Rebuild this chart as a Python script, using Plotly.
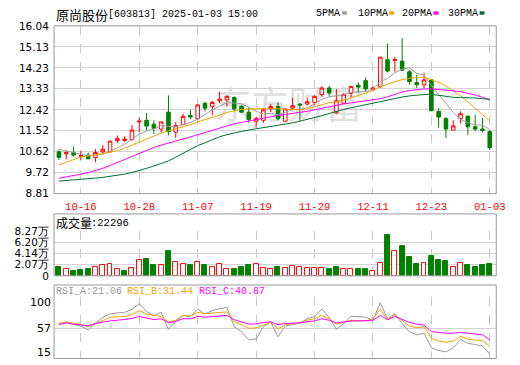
import pandas as pd
import plotly.graph_objects as go

# ---------------- data ----------------
dates = [d for d in pd.bdate_range("2024-10-11", "2025-01-03") if d.strftime("%m-%d") != "01-01"]

opens = [10.61, 10.52, 10.58, 10.42, 10.47, 10.37, 10.61, 10.61, 11.09, 11.10,
         11.14, 11.90, 11.97, 11.80, 11.59, 12.32, 11.46, 11.79, 12.18, 12.04,
         12.70, 12.56, 12.81, 12.85, 12.95, 12.57, 12.32, 11.93, 11.97, 12.46,
         12.57, 11.93, 12.50, 12.67, 12.67, 12.74, 13.08, 13.36, 12.29, 12.70,
         13.13, 13.48, 13.68, 13.29, 13.43, 14.58, 14.55, 14.52, 14.06, 13.60,
         13.50, 13.71, 12.35, 12.04, 11.55, 12.04, 12.15, 11.69, 11.59, 11.48]
highs = [10.70, 10.66, 10.84, 10.66, 10.58, 10.73, 10.89, 11.10, 11.31, 11.28,
         11.76, 12.07, 12.29, 11.97, 11.90, 13.04, 11.90, 12.25, 12.42, 12.67,
         12.77, 12.81, 13.20, 13.04, 13.00, 12.63, 12.53, 12.11, 12.46, 12.67,
         12.74, 12.49, 12.95, 12.70, 12.95, 13.04, 13.43, 13.46, 13.32, 13.13,
         13.43, 13.60, 13.82, 13.43, 14.69, 15.28, 14.69, 15.52, 14.13, 13.92,
         14.02, 13.74, 12.49, 12.11, 11.97, 12.35, 12.15, 12.21, 12.07, 11.55]
lows = [10.26, 10.28, 10.40, 10.26, 10.30, 10.16, 10.51, 10.58, 10.99, 11.04,
        11.09, 11.45, 11.55, 11.37, 11.44, 11.32, 11.21, 11.76, 12.01, 12.01,
        12.35, 12.18, 12.70, 12.56, 12.39, 12.29, 11.86, 11.65, 11.86, 12.32,
        11.97, 11.90, 12.43, 11.93, 12.60, 12.63, 12.99, 13.04, 12.25, 12.67,
        12.95, 13.15, 13.22, 13.22, 13.36, 14.03, 14.06, 14.09, 13.50, 13.36,
        13.36, 12.35, 11.65, 11.21, 11.55, 11.83, 11.34, 11.51, 11.45, 10.69]
closes = [10.37, 10.58, 10.47, 10.45, 10.31, 10.58, 10.72, 11.07, 11.18, 11.16,
          11.55, 11.93, 11.72, 11.62, 11.90, 11.48, 11.74, 12.14, 12.11, 12.63,
          12.49, 12.74, 12.88, 13.00, 12.46, 12.32, 12.00, 12.04, 12.42, 12.56,
          12.04, 12.46, 12.60, 12.63, 12.77, 13.00, 13.36, 13.15, 12.81, 13.09,
          13.43, 13.40, 13.32, 13.36, 14.69, 14.09, 14.59, 14.13, 13.64, 13.50,
          13.71, 12.39, 12.11, 11.59, 11.73, 12.25, 11.69, 11.59, 11.53, 10.79]
volumes = [16000, 12500, 9000, 11500, 13000, 16500, 19000, 21300, 13000, 9500,
           14200, 28400, 30700, 19000, 19000, 44900, 24800, 21300, 19000, 24800,
           19000, 16500, 21300, 13000, 13000, 15400, 20000, 21300, 14200, 13000,
           16500, 14200, 17700, 16500, 14200, 14200, 14200, 13000, 16500, 13000,
           13000, 11800, 11800, 9500, 23600, 75180, 44900, 55500, 34300, 21300,
           23600, 36600, 29500, 27200, 16500, 23600, 20000, 15400, 19000, 22296]
ma5 = [10.72, 10.66, 10.58, 10.50, 10.44, 10.48, 10.51, 10.63, 10.77, 10.94,
       11.14, 11.38, 11.51, 11.60, 11.74, 11.73, 11.69, 11.78, 11.87, 12.02,
       12.22, 12.42, 12.57, 12.75, 12.71, 12.68, 12.53, 12.36, 12.25, 12.27,
       12.21, 12.30, 12.42, 12.46, 12.50, 12.69, 12.87, 12.98, 13.02, 13.08,
       13.17, 13.18, 13.21, 13.32, 13.64, 13.77, 14.01, 14.17, 14.23, 13.99,
       13.91, 13.47, 13.07, 12.66, 12.31, 12.01, 11.87, 11.77, 11.76, 11.57]
ma10 = [10.05, 10.18, 10.28, 10.38, 10.45, 10.49, 10.53, 10.58, 10.66, 10.77,
        10.90, 11.03, 11.17, 11.30, 11.42, 11.52, 11.60, 11.68, 11.78, 11.90,
        11.99, 12.08, 12.19, 12.31, 12.37, 12.44, 12.46, 12.47, 12.49, 12.48,
        12.46, 12.44, 12.42, 12.42, 12.47, 12.54, 12.64, 12.73, 12.77, 12.82,
        12.94, 13.03, 13.14, 13.26, 13.42, 13.53, 13.63, 13.72, 13.78, 13.82,
        13.82, 13.73, 13.61, 13.44, 13.22, 13.03, 12.76, 12.49, 12.23, 11.94]
ma20 = [9.47, 9.52, 9.58, 9.65, 9.72, 9.80, 9.90, 10.02, 10.15, 10.28,
        10.42, 10.54, 10.68, 10.80, 10.90, 10.98, 11.06, 11.15, 11.25, 11.35,
        11.43, 11.53, 11.63, 11.73, 11.82, 11.88, 11.94, 12.00, 12.07, 12.15,
        12.18, 12.22, 12.26, 12.30, 12.36, 12.42, 12.49, 12.56, 12.63, 12.68,
        12.72, 12.76, 12.80, 12.84, 12.90, 12.98, 13.09, 13.19, 13.25, 13.30,
        13.32, 13.32, 13.30, 13.27, 13.24, 13.20, 13.14, 13.06, 12.96, 12.86]
ma30 = [9.35, 9.37, 9.39, 9.42, 9.45, 9.48, 9.51, 9.55, 9.60, 9.65,
        9.72, 9.80, 9.90, 10.00, 10.10, 10.22, 10.38, 10.55, 10.72, 10.88,
        11.00, 11.14, 11.26, 11.35, 11.43, 11.49, 11.55, 11.60, 11.65, 11.70,
        11.74, 11.80, 11.86, 11.93, 12.00, 12.08, 12.17, 12.26, 12.36, 12.44,
        12.51, 12.58, 12.64, 12.71, 12.78, 12.85, 12.91, 12.97, 13.02, 13.06,
        13.08, 13.09, 13.04, 12.98, 12.96, 12.95, 12.95, 12.93, 12.90, 12.87]
rsi_a = [62.5, 65.6, 62.0, 60.0, 54.5, 64.0, 72.0, 76.8, 78.0, 79.0,
         83.0, 91.0, 80.0, 74.6, 79.0, 55.4, 66.0, 74.6, 73.0, 83.5,
         76.8, 81.3, 84.0, 85.7, 59.0, 52.0, 41.1, 42.0, 59.0, 65.6,
         45.0, 60.0, 62.0, 64.0, 70.0, 73.2, 83.5, 72.0, 55.4, 63.4,
         73.2, 72.8, 72.3, 67.9, 92.4, 70.1, 76.8, 63.4, 52.0, 47.8,
         50.0, 29.9, 26.0, 24.2, 29.9, 41.1, 36.0, 34.4, 32.2, 21.06]
rsi_b = [63.4, 65.6, 63.8, 62.0, 59.0, 63.5, 68.0, 72.0, 72.8, 73.2,
         76.0, 81.3, 76.5, 74.6, 73.2, 65.6, 68.0, 74.6, 73.5, 79.1,
         76.8, 78.0, 79.0, 79.5, 65.6, 62.0, 56.7, 57.5, 61.2, 65.6,
         56.0, 62.0, 63.0, 64.3, 68.0, 70.1, 74.6, 70.0, 62.5, 65.6,
         67.9, 67.5, 67.0, 70.1, 83.5, 68.8, 75.5, 67.9, 60.0, 57.6,
         59.0, 43.3, 39.0, 37.5, 39.0, 45.6, 42.0, 40.2, 40.2, 31.44]
rsi_c = [62.1, 64.3, 62.5, 61.5, 60.3, 63.5, 65.5, 67.0, 68.0, 68.8,
         70.5, 73.2, 70.5, 68.8, 70.1, 64.3, 66.5, 70.1, 70.0, 73.2,
         72.3, 72.8, 73.5, 74.6, 68.8, 66.0, 62.5, 63.0, 65.0, 65.6,
         62.0, 63.5, 64.0, 64.3, 66.0, 67.0, 70.1, 68.0, 64.3, 65.6,
         67.0, 67.0, 67.0, 67.9, 74.6, 68.8, 73.2, 68.8, 65.0, 62.5,
         61.2, 52.3, 51.0, 50.0, 50.2, 50.9, 50.0, 49.1, 47.8, 40.87]

price_ticks = [8.81, 9.72, 10.62, 11.52, 12.42, 13.33, 14.23, 15.13, 16.04]
vol_ticks = [0, 20675, 41350, 62025, 82700]
vol_tick_text = ["0", "2.07万", "4.14万", "6.20万", "8.27万"]
date_labels = ["10-16", "10-28", "11-07", "11-19", "11-29", "12-11", "12-23", "01-03"]
rsi_labels = ["100", "57", "15"]

# ---------------- styling / layout helpers ----------------
W, H = 520, 365
RED, GREEN = "#ff0000", "#008000"
C_MA5, C_MA10, C_MA20, C_MA30 = "#a0a0a0", "#f5a300", "#ff00ff", "#007030"
GRID, BORDER = "#d2d2d2", "#9a9a9a"
MONO = "Liberation Mono"
SANS = "DejaVu Sans"
CJK = "Noto Sans CJK SC"


def px(v):
    return v / W


def py(v):
    return 1 - v / H


X0, X1 = 55, 505
MAIN = (20.5, 194)
VOLBOX, VOLPLOT = (215, 279), (232.7, 279)
RSIBOX, RSIPLOT = (288.5, 364.5), (301, 364.5)

n = len(closes)
x = list(range(n))
xr = [-0.67, n - 1 + 0.89]
mmdd = [d.strftime("%m-%d") for d in dates]
tick_idx = [mmdd.index(s) for s in date_labels]

vol_up = [(closes[i] >= (closes[i - 1] if i > 0 else opens[i])) for i in range(n)]
vol_fill = ["#ffffff" if u else GREEN for u in vol_up]
vol_edge = [RED if u else GREEN for u in vol_up]

fig = go.Figure()

# watermark (bottom-most subplot)
fig.add_trace(go.Scatter(x=[0.53], y=[0.50], mode="text", text=["东方财富"],
                         textfont=dict(family=CJK, size=37, color="#e0e0e0"),
                         xaxis="x", yaxis="y", hoverinfo="skip", showlegend=False))

# candles
fig.add_trace(go.Candlestick(
    x=x, open=opens, high=highs, low=lows, close=closes,
    increasing=dict(line=dict(color=RED, width=1), fillcolor="#ffffff"),
    decreasing=dict(line=dict(color=GREEN, width=1), fillcolor=GREEN),
    whiskerwidth=0, xaxis="x2", yaxis="y2", showlegend=False, hoverinfo="skip"))

for ys, col in [(ma5, C_MA5), (ma10, C_MA10), (ma20, C_MA20), (ma30, C_MA30)]:
    fig.add_trace(go.Scatter(x=x, y=ys, mode="lines", line=dict(color=col, width=1),
                             xaxis="x2", yaxis="y2", showlegend=False, hoverinfo="skip"))

# volume
fig.add_trace(go.Bar(x=x, y=volumes, width=0.68,
                     marker=dict(color=vol_fill, line=dict(color=vol_edge, width=1)),
                     xaxis="x3", yaxis="y3", showlegend=False, hoverinfo="skip"))

# RSI
for ys, col in [(rsi_a, "#999999"), (rsi_b, C_MA10), (rsi_c, C_MA20)]:
    fig.add_trace(go.Scatter(x=x, y=ys, mode="lines", line=dict(color=col, width=1),
                             xaxis="x4", yaxis="y4", showlegend=False, hoverinfo="skip"))

xdom = [px(X0), px(X1)]
xcommon = dict(domain=xdom, range=xr, tickmode="array", tickvals=tick_idx,
               showgrid=True, gridcolor="#c8c8c8", griddash="dash", gridwidth=1,
               zeroline=False, showline=False, fixedrange=True)

fig.update_layout(
    width=W, height=H, autosize=False,
    margin=dict(l=0, r=0, t=0, b=0, pad=0),
    paper_bgcolor="#ffffff", plot_bgcolor="rgba(0,0,0,0)",
    showlegend=False, bargap=0,
    xaxis=dict(domain=xdom, range=[0, 1], visible=False, anchor="y"),
    yaxis=dict(domain=[py(MAIN[1]), py(MAIN[0])], range=[0, 1], visible=False, anchor="x"),
    xaxis2=dict(**xcommon, anchor="y2", ticktext=date_labels, showticklabels=True,
                ticks="outside", ticklen=3, tickcolor="rgba(0,0,0,0)",
                tickfont=dict(family=MONO, size=10.5, color=RED),
                rangeslider=dict(visible=False)),
    yaxis2=dict(domain=[py(MAIN[1]), py(MAIN[0])], range=[price_ticks[0], price_ticks[-1]],
                anchor="x2", tickmode="array", tickvals=price_ticks,
                ticktext=[f"{v:.2f}" for v in price_ticks],
                showgrid=True, gridcolor=GRID, gridwidth=1, zeroline=False, showline=False,
                ticks="outside", ticklen=2, tickcolor="rgba(0,0,0,0)",
                tickfont=dict(family=SANS, size=10.5, color="#000000")),
    xaxis3=dict(**xcommon, anchor="y3", showticklabels=False),
    yaxis3=dict(domain=[py(VOLPLOT[1]), py(VOLPLOT[0])], range=[vol_ticks[0], vol_ticks[-1]],
                anchor="x3", tickmode="array", tickvals=vol_ticks, ticktext=vol_tick_text,
                showgrid=True, gridcolor=GRID, gridwidth=1, zeroline=False, showline=False,
                ticks="outside", ticklen=2, tickcolor="rgba(0,0,0,0)",
                tickfont=dict(family=SANS, size=10.5, color="#000000")),
    xaxis4=dict(**xcommon, anchor="y4", showticklabels=False),
    yaxis4=dict(domain=[py(RSIPLOT[1]), py(RSIPLOT[0])], range=[15, 100],
                anchor="x4", tickmode="array", tickvals=[57, 100], showticklabels=False,
                showgrid=True, gridcolor=GRID, gridwidth=1, zeroline=False, showline=False),
)

# panel borders
shapes = []
for top, bot in [MAIN, VOLBOX, RSIBOX]:
    shapes.append(dict(type="rect", xref="paper", yref="paper",
                       x0=px(X0), x1=px(X1), y0=py(bot), y1=py(top),
                       line=dict(color=BORDER, width=1), fillcolor="rgba(0,0,0,0)", layer="above"))

annotations = []


def text(s, xp, yp, family, size, color, anchor="left"):
    annotations.append(dict(text=s, x=px(xp), y=py(yp), xref="paper", yref="paper",
                            xanchor=anchor, yanchor="middle", showarrow=False,
                            font=dict(family=family, size=size, color=color), borderpad=0))


# title
text("原尚股份", 56, 9, CJK, 13, "#000000")
text("[603813] " + dates[-1].strftime("%Y-%m-%d") + " 15:00", 109, 9, MONO, 10, "#000000")

# MA legend
legend_items = [("5PMA", C_MA5, 321), ("10PMA", C_MA10, 363), ("20PMA", C_MA20, 408), ("30PMA", C_MA30, 455)]
for lbl, col, lx in legend_items:
    text(lbl, lx, 8, MONO, 10, "#000000")
    wtxt = 6.0 * len(lbl)
    shapes.append(dict(type="rect", xref="paper", yref="paper",
                       x0=px(lx + wtxt + 3), x1=px(lx + wtxt + 8), y0=py(9), y1=py(5.5),
                       line=dict(width=0), fillcolor=col))

# volume header
text("成交量", 56, 224, CJK, 12, "#000000")
text(":" + str(volumes[-1]), 92, 224, MONO, 10.5, "#000000")

# RSI header
text(f"RSI_A:{rsi_a[-1]:.2f}", 56, 295, MONO, 10, "#999999")
text(f"RSI_B:{rsi_b[-1]:.2f}", 128, 295, MONO, 10, C_MA10)
text(f"RSI_C:{rsi_c[-1]:.2f}", 201, 295, MONO, 10, C_MA20)

# RSI scale labels
for lbl, yy in zip(rsi_labels, [307, 333, 358]):
    text(lbl, 53, yy, SANS, 11, "#000000", anchor="right")

fig.update_layout(shapes=shapes, annotations=annotations)
fig.write_html("out.html")
